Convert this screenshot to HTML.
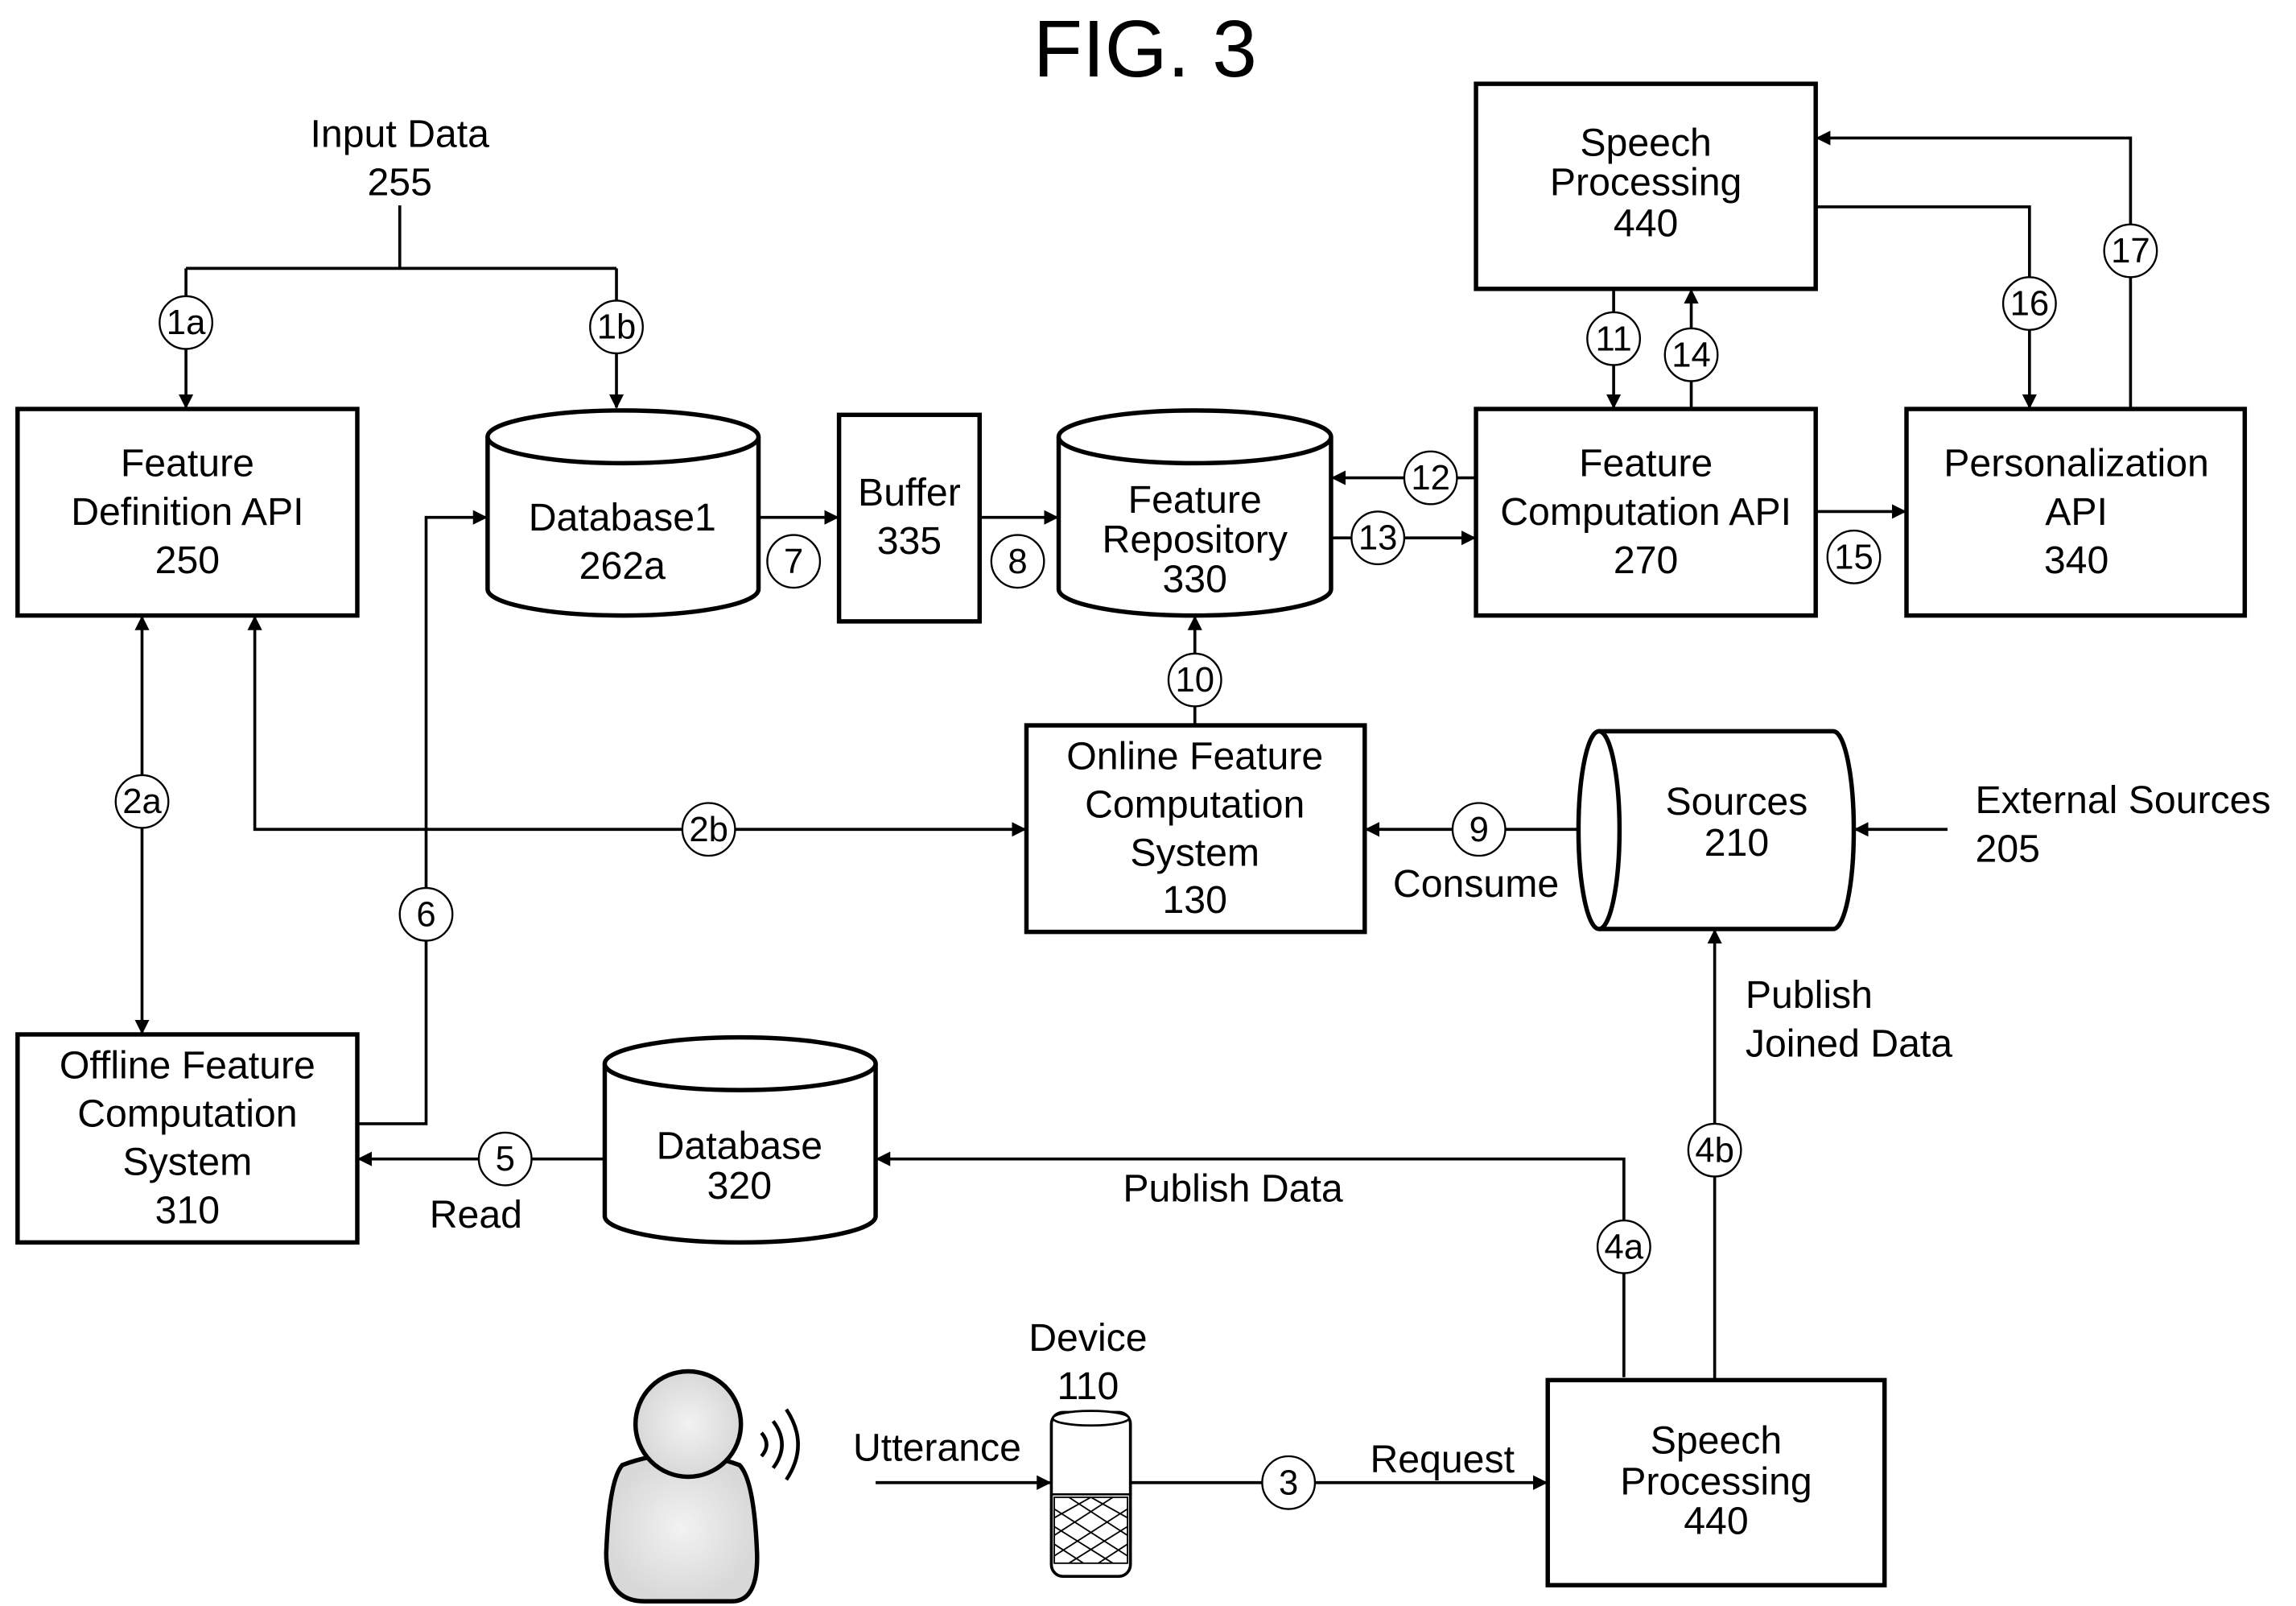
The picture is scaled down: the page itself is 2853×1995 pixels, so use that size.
<!DOCTYPE html>
<html><head><meta charset="utf-8"><style>
html,body{margin:0;padding:0;background:#fff;}
svg{display:block;}
text{font-family:"Liberation Sans",Arial,sans-serif;font-size:26.5px;fill:#000;text-anchor:middle;}
.b{fill:#fff;stroke:#000;stroke-width:3;}
.l{fill:none;stroke:#000;stroke-width:2;}
.c{fill:#fff;stroke:#000;stroke-width:1.3;}
.n{font-size:24px;}
</style></head><body>
<svg width="2853" height="1995" viewBox="0 0 1568 1096" xmlns="http://www.w3.org/2000/svg">
<defs><marker id="a" markerWidth="10" markerHeight="10" refX="9" refY="5" orient="auto" markerUnits="userSpaceOnUse" viewBox="0 0 10 10"><path d="M0,0 L10,5 L0,10 z" fill="#000"/></marker>
<marker id="s" markerWidth="10" markerHeight="10" refX="1" refY="5" orient="auto" markerUnits="userSpaceOnUse" viewBox="0 0 10 10"><path d="M10,0 L0,5 L10,10 z" fill="#000"/></marker>
<radialGradient id="g"><stop offset="0" stop-color="#f2f2f2"/><stop offset="1" stop-color="#d8d8d8"/></radialGradient></defs>

<text x="782" y="52" style="font-size:55px">FIG. 3</text>
<text x="273" y="100">Input Data</text><text x="273" y="133">255</text>

<path class="l" d="M273,140 V183 M127,183 H421"/>
<path class="l" d="M127,183 V278" marker-end="url(#a)"/>
<path class="l" d="M421,183 V278" marker-end="url(#a)"/>
<path class="l" d="M518,353 H572" marker-end="url(#a)"/>
<path class="l" d="M669,353 H722" marker-end="url(#a)"/>
<path class="l" d="M1008,326 H910" marker-end="url(#a)"/>
<path class="l" d="M909,367 H1007" marker-end="url(#a)"/>
<path class="l" d="M1102,197 V278" marker-end="url(#a)"/>
<path class="l" d="M1155,279 V198" marker-end="url(#a)"/>
<path class="l" d="M1240,349 H1301" marker-end="url(#a)"/>
<path class="l" d="M1240,141 H1386 V278" marker-end="url(#a)"/>
<path class="l" d="M1455,279 V94 H1241" marker-end="url(#a)"/>
<path class="l" d="M816,495 V421" marker-end="url(#a)"/>
<path class="l" d="M174,421 V566 H700" marker-start="url(#s)" marker-end="url(#a)"/>
<path class="l" d="M97,421 V705" marker-start="url(#s)" marker-end="url(#a)"/>
<path class="l" d="M244,767 H291 V353 H332" marker-end="url(#a)"/>
<path class="l" d="M1078,566 H933" marker-end="url(#a)"/>
<path class="l" d="M1330,566 H1267" marker-end="url(#a)"/>
<path class="l" d="M1171,942 V635" marker-end="url(#a)"/>
<path class="l" d="M413,791 H245" marker-end="url(#a)"/>
<path class="l" d="M1109,940 V791 H599" marker-end="url(#a)"/>
<path class="l" d="M598,1012 H717" marker-end="url(#a)"/>
<path class="l" d="M772,1012 H1056" marker-end="url(#a)"/>

<rect class="b" x="12" y="279" width="232" height="141"/>
<text x="128" y="325">Feature</text><text x="128" y="358">Definition API</text><text x="128" y="391">250</text>
<rect class="b" x="573" y="283" width="96" height="141"/>
<text x="621" y="345">Buffer</text><text x="621" y="378">335</text>
<rect class="b" x="1008" y="279" width="232" height="141"/>
<text x="1124" y="325">Feature</text><text x="1124" y="358">Computation API</text><text x="1124" y="391">270</text>
<rect class="b" x="1008" y="57" width="232" height="140"/>
<text x="1124" y="106">Speech</text><text x="1124" y="133">Processing</text><text x="1124" y="161">440</text>
<rect class="b" x="1302" y="279" width="231" height="141"/>
<text x="1418" y="325">Personalization</text><text x="1418" y="358">API</text><text x="1418" y="391">340</text>
<rect class="b" x="701" y="495" width="231" height="141"/>
<text x="816" y="525">Online Feature</text><text x="816" y="558">Computation</text><text x="816" y="591">System</text><text x="816" y="623">130</text>
<rect class="b" x="12" y="706" width="232" height="142"/>
<text x="128" y="736">Offline Feature</text><text x="128" y="769">Computation</text><text x="128" y="802">System</text><text x="128" y="835">310</text>
<rect class="b" x="1057" y="942" width="230" height="140"/>
<text x="1172" y="992">Speech</text><text x="1172" y="1020">Processing</text><text x="1172" y="1047">440</text>

<path class="b" d="M333,298 V402 A92.5,18 0 0 0 518,402 V298"/>
<ellipse class="b" cx="425.5" cy="298" rx="92.5" ry="18"/>
<text x="425" y="362">Database1</text><text x="425" y="395">262a</text>
<path class="b" d="M723,298 V402 A93,18 0 0 0 909,402 V298"/>
<ellipse class="b" cx="816" cy="298" rx="93" ry="18"/>
<text x="816" y="350">Feature</text><text x="816" y="377">Repository</text><text x="816" y="404">330</text>
<path class="b" d="M413,726 V830 A92.5,18 0 0 0 598,830 V726"/>
<ellipse class="b" cx="505.5" cy="726" rx="92.5" ry="18"/>
<text x="505" y="791">Database</text><text x="505" y="818">320</text>
<path class="b" d="M1092,499 H1252 A14,67.5 0 0 1 1252,634 H1092"/>
<ellipse class="b" cx="1092" cy="566.5" rx="14" ry="67.5"/>
<text x="1186" y="556">Sources</text><text x="1186" y="584">210</text>

<text x="1008" y="612">Consume</text>
<text x="1349" y="555" style="text-anchor:start">External Sources</text><text x="1349" y="588" style="text-anchor:start">205</text>
<text x="1192" y="688" style="text-anchor:start">Publish</text><text x="1192" y="721" style="text-anchor:start">Joined Data</text>
<text x="325" y="838">Read</text>
<text x="842" y="820">Publish Data</text>
<text x="743" y="922">Device</text><text x="743" y="955">110</text>
<text x="640" y="997">Utterance</text>
<text x="985" y="1005">Request</text>

<g>
<circle class="c" cx="127" cy="220" r="18"/><text class="n" x="127" y="228">1a</text>
<circle class="c" cx="421" cy="223" r="18"/><text class="n" x="421" y="231">1b</text>
<circle class="c" cx="542" cy="383" r="18"/><text class="n" x="542" y="391">7</text>
<circle class="c" cx="695" cy="383" r="18"/><text class="n" x="695" y="391">8</text>
<circle class="c" cx="977" cy="326" r="18"/><text class="n" x="977" y="334">12</text>
<circle class="c" cx="941" cy="367" r="18"/><text class="n" x="941" y="375">13</text>
<circle class="c" cx="1102" cy="231" r="18"/><text class="n" x="1102" y="239">11</text>
<circle class="c" cx="1155" cy="242" r="18"/><text class="n" x="1155" y="250">14</text>
<circle class="c" cx="1266" cy="380" r="18"/><text class="n" x="1266" y="388">15</text>
<circle class="c" cx="1386" cy="207" r="18"/><text class="n" x="1386" y="215">16</text>
<circle class="c" cx="1455" cy="171" r="18"/><text class="n" x="1455" y="179">17</text>
<circle class="c" cx="816" cy="464" r="18"/><text class="n" x="816" y="472">10</text>
<circle class="c" cx="97" cy="547" r="18"/><text class="n" x="97" y="555">2a</text>
<circle class="c" cx="484" cy="566" r="18"/><text class="n" x="484" y="574">2b</text>
<circle class="c" cx="291" cy="624" r="18"/><text class="n" x="291" y="632">6</text>
<circle class="c" cx="1010" cy="566" r="18"/><text class="n" x="1010" y="574">9</text>
<circle class="c" cx="1171" cy="785" r="18"/><text class="n" x="1171" y="793">4b</text>
<circle class="c" cx="345" cy="791" r="18"/><text class="n" x="345" y="799">5</text>
<circle class="c" cx="1109" cy="851" r="18"/><text class="n" x="1109" y="859">4a</text>
<circle class="c" cx="880" cy="1012" r="18"/><text class="n" x="880" y="1020">3</text>
</g>

<rect x="718" y="964" width="54" height="112" rx="8" fill="#fff" stroke="#000" stroke-width="2"/>
<ellipse cx="745" cy="968" rx="26" ry="5" fill="#fff" stroke="#000" stroke-width="1.5"/>
<line x1="718" y1="1020" x2="772" y2="1020" stroke="#000" stroke-width="1.5"/>
<rect x="720" y="1022" width="50" height="45" fill="#fff" stroke="#000" stroke-width="1"/>
<path d="M720,1030 L770,1062 M720,1042 L760,1067 M720,1054 L740,1067 M730,1022 L770,1048 M745,1022 L770,1036 M770,1030 L720,1062 M770,1042 L730,1067 M770,1054 L750,1067 M760,1022 L720,1048 M745,1022 L720,1036" stroke="#000" stroke-width="1"/>

<path d="M425,1000 Q416,1010 414,1060 Q414,1093 440,1093 H500 Q518,1093 517,1060 Q515,1010 505,1000 Q465,985 425,1000 Z" fill="url(#g)" stroke="#000" stroke-width="3"/>
<circle cx="470" cy="972" r="36" fill="url(#g)" stroke="#000" stroke-width="3"/>
<path d="M520,978 Q527,986 520,994 M528,970 Q540,986 528,1002 M537,962 Q553,986 537,1010" fill="none" stroke="#000" stroke-width="2.5"/>
</svg>
</body></html>
